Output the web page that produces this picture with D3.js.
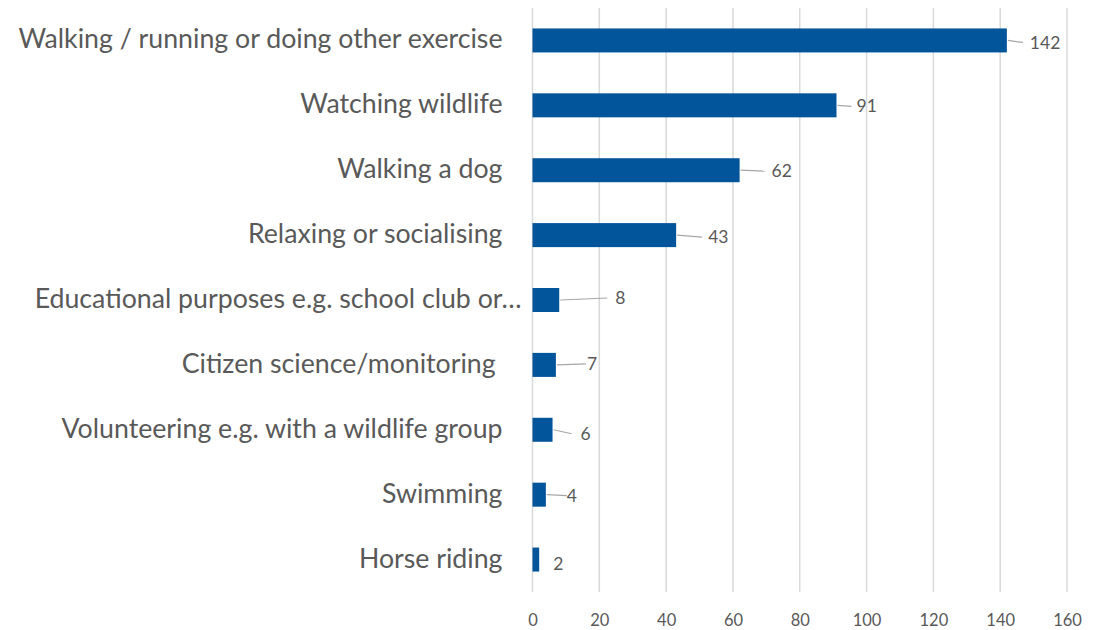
<!DOCTYPE html>
<html>
<head>
<meta charset="utf-8">
<script src="https://cdn.jsdelivr.net/npm/d3@7"></script>
<style>
  html, body { margin: 0; padding: 0; background: #ffffff; }
  svg { display: block; }
  .cat text { white-space: pre; }
</style>
</head>
<body>
<svg id="chart" width="1106" height="630"></svg>
<script>
// Activities people take part in, with number of responses
const categories = [
  "Walking / running or doing other exercise",
  "Watching wildlife",
  "Walking a dog",
  "Relaxing or socialising",
  "Educational purposes e.g. school club or\u2026",
  "Citizen science/monitoring ",
  "Volunteering e.g. with a wildlife group",
  "Swimming",
  "Horse riding"
];
const responses = [142, 91, 62, 43, 8, 7, 6, 4, 2];
const tickValues = [0, 20, 40, 60, 80, 100, 120, 140, 160];

// Hand-placed data labels: text offset from bar end, vertical nudge, leader line length
const labelDx = [23, 20, 32, 32, 56, 31, 28, 21, 14];
const labelDy = [2, 1, 1, 2, -2, -1, 4, 1, 4];
const leaderLen = [16, 15, 25, 26, 48, 30, 19, 21, 0];
// the truncated category label sits closer to its bar
const categoryDx = [0, 0, 0, 0, 19, 0, 0, 0, 0];

const W = 1106, H = 630;
const plot = { left: 532.5, right: 1067, top: 8, bottom: 592 };
const textColor = "#595959";
const barColor = "#03559b";
const gridColor = "#d9d9d9";
const font = "Lato, 'Open Sans', sans-serif";

const svg = d3.select("#chart");

const x = d3.scaleLinear().domain([0, 160]).range([plot.left, plot.right]);
const y = d3.scaleBand()
  .domain(categories)
  .range([plot.top, plot.bottom])
  .paddingInner(0.63)
  .paddingOuter(0.315);

// vertical gridlines
svg.append("g")
  .selectAll("line")
  .data(tickValues)
  .join("line")
  .attr("x1", d => x(d)).attr("x2", d => x(d))
  .attr("y1", plot.top).attr("y2", plot.bottom)
  .attr("stroke", gridColor)
  .attr("stroke-width", 1.5);

// x axis tick labels
const xAxis = d3.axisBottom(x).tickValues(tickValues).tickSize(0).tickPadding(0);
const gx = svg.append("g")
  .attr("transform", `translate(0, ${plot.bottom + 22})`)
  .call(xAxis);
gx.select(".domain").remove();
gx.selectAll("text")
  .attr("font-family", font)
  .attr("font-size", 16.5)
  .attr("fill", textColor);

// category labels
const yAxis = d3.axisLeft(y).tickSize(0).tickPadding(0);
const gy = svg.append("g")
  .attr("class", "cat")
  .attr("transform", `translate(${plot.left - 30}, 0)`)
  .call(yAxis);
gy.select(".domain").remove();
gy.selectAll("text")
  .attr("font-family", font)
  .attr("font-size", 22)
  .attr("fill", textColor)
  .attr("dy", "0.3em");

// fit the category labels to the width the longest one spans
const longest = d3.max(gy.selectAll("text").nodes(), n => n.getComputedTextLength());
const fitSize = 22 * 487 / longest;
gy.selectAll("text")
  .attr("font-size", fitSize)
  .attr("x", d => categoryDx[categories.indexOf(d)]);

const rows = categories.map((c, i) => ({ c, v: responses[i], i }));

// bars
svg.append("g")
  .selectAll("rect")
  .data(rows)
  .join("rect")
  .attr("x", x(0))
  .attr("y", d => y(d.c))
  .attr("width", d => x(d.v) - x(0))
  .attr("height", y.bandwidth())
  .attr("fill", barColor);

// leader lines
svg.append("g")
  .selectAll("line")
  .data(rows.filter(d => leaderLen[d.i] > 0))
  .join("line")
  .attr("x1", d => x(d.v) + 1)
  .attr("y1", d => y(d.c) + y.bandwidth() / 2)
  .attr("x2", d => x(d.v) + leaderLen[d.i])
  .attr("y2", d => y(d.c) + y.bandwidth() / 2 + labelDy[d.i])
  .attr("stroke", "#a6a6a6")
  .attr("stroke-width", 1.2);

// value labels
svg.append("g")
  .selectAll("text")
  .data(rows)
  .join("text")
  .attr("x", d => x(d.v) + labelDx[d.i])
  .attr("y", d => y(d.c) + y.bandwidth() / 2 + labelDy[d.i])
  .attr("dy", "0.35em")
  .attr("font-family", font)
  .attr("font-size", 17.5)
  .attr("fill", textColor)
  .text(d => d.v);
</script>
</body>
</html>
